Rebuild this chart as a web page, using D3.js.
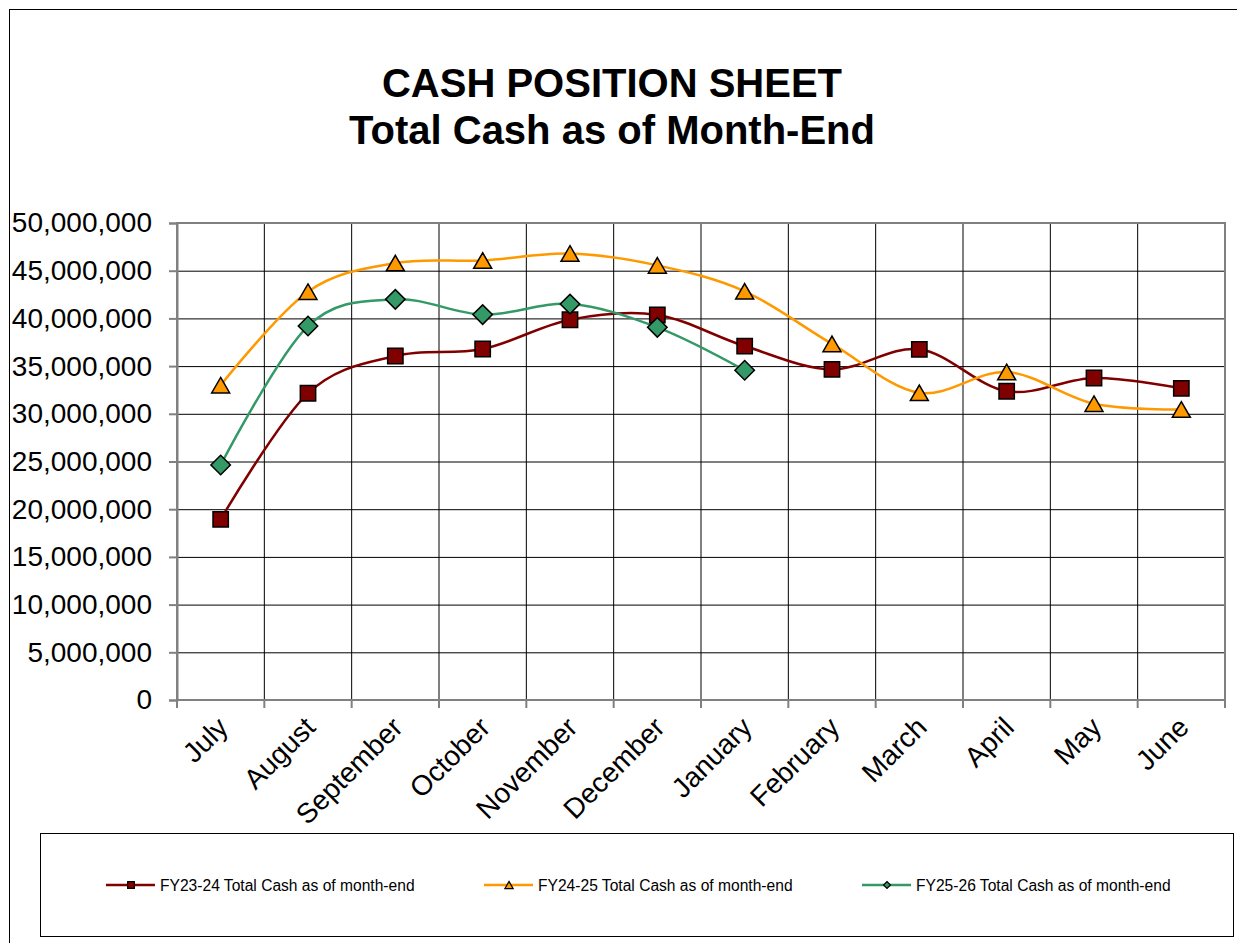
<!DOCTYPE html>
<html>
<head>
<meta charset="utf-8">
<script src="https://cdn.jsdelivr.net/npm/d3@7"></script>
<style>
  body { margin: 0; background: #fff; }
  svg { display: block; font-family: "Liberation Sans", Arial, sans-serif; }
</style>
</head>
<body>
<svg id="chart" width="1237" height="943"></svg>
<script>
const months = ["July", "August", "September", "October", "November", "December",
  "January", "February", "March", "April", "May", "June"];
const fy2324 = [18940000, 32150000, 36060000, 36790000, 39860000, 40360000,
  37100000, 34660000, 36760000, 32360000, 33750000, 32670000];
const fy2425 = [33000000, 42800000, 45800000, 46070000, 46800000, 45560000,
  42840000, 37330000, 32200000, 34380000, 31060000, 30450000];
const fy2526 = [24630000, 39200000, 42000000, 40400000, 41500000, 39060000, 34560000];
const yTicks = d3.range(0, 50000001, 5000000);
const seriesNames = [
  "FY23-24 Total Cash as of month-end",
  "FY24-25 Total Cash as of month-end",
  "FY25-26 Total Cash as of month-end",
];

const colors = ["#800000", "#FF9900", "#339966"];
// square, triangle, diamond (square turned 45deg)
const shapes = [d3.symbolSquare, d3.symbolTriangle, d3.symbolSquare];
const rotations = [0, 0, 45];
const markerSize = [235, 140, 190];
const legendSizes = [45, 30, 24];

// shift for triangle so the data point sits in the middle of its box
function markerShift(si, size) {
  if (shapes[si] !== d3.symbolTriangle) return 0;
  const side = Math.sqrt(size / (Math.sqrt(3) / 4));
  return (side * Math.sqrt(3) / 2) / 6;
}

const svg = d3.select("#chart");
const plot = { left: 177, right: 1225, top: 223, bottom: 700 };

// outer frame
svg.append("rect")
  .attr("x", 9.5).attr("y", 9.5)
  .attr("width", 1240).attr("height", 950)
  .attr("fill", "#fff").attr("stroke", "#000").attr("stroke-width", 1);

// title
const title = svg.append("text")
  .attr("text-anchor", "middle")
  .attr("font-weight", "bold")
  .attr("font-size", 40);
title.append("tspan").attr("x", 612).attr("y", 97).text("CASH POSITION SHEET");
title.append("tspan").attr("x", 612).attr("y", 144).text("Total Cash as of Month-End");

const x = d3.scaleBand().domain(months).range([plot.left, plot.right]).padding(0);
const y = d3.scaleLinear().domain([0, 50000000]).range([plot.bottom, plot.top]);
const cx = (m) => x(m) + x.bandwidth() / 2;

// grid lines
svg.append("g")
  .attr("class", "y-grid")
  .attr("transform", `translate(${plot.left},0)`)
  .call(d3.axisLeft(y).tickValues(yTicks).tickSize(-(plot.right - plot.left)).tickFormat(""))
  .call((g) => g.select(".domain").remove())
  .selectAll("line").attr("stroke", "#000").attr("stroke-width", 1);

const bounds = months.map((m) => x(m)).concat([plot.right]);
svg.append("g")
  .selectAll("line")
  .data(bounds)
  .join("line")
  .attr("x1", (d) => d).attr("x2", (d) => d)
  .attr("y1", plot.top).attr("y2", plot.bottom)
  .attr("stroke", "#000").attr("stroke-width", 1);

// plot border (gray)
svg.append("rect")
  .attr("x", plot.left).attr("y", plot.top)
  .attr("width", plot.right - plot.left).attr("height", plot.bottom - plot.top)
  .attr("fill", "none").attr("stroke", "#808080").attr("stroke-width", 2);

// y axis
const yAxis = svg.append("g")
  .attr("transform", `translate(${plot.left},0)`)
  .call(d3.axisLeft(y).tickValues(yTicks).tickSize(8).tickPadding(17)
    .tickFormat(d3.format(",")));
yAxis.select(".domain").attr("stroke", "#808080").attr("stroke-width", 2);
yAxis.selectAll(".tick line").attr("stroke", "#808080").attr("stroke-width", 2);
yAxis.selectAll("text")
  .attr("font-size", 28)
  .attr("font-family", "'Liberation Sans', Arial, sans-serif")
  .attr("fill", "#000");

// x axis tick marks at category boundaries
svg.append("g")
  .selectAll("line")
  .data(bounds)
  .join("line")
  .attr("x1", (d) => d).attr("x2", (d) => d)
  .attr("y1", plot.bottom).attr("y2", plot.bottom + 8)
  .attr("stroke", "#808080").attr("stroke-width", 2);

// x labels
const xAxis = svg.append("g")
  .attr("transform", `translate(0,${plot.bottom})`)
  .call(d3.axisBottom(x).tickSize(0).tickPadding(0));
xAxis.select(".domain").remove();
xAxis.selectAll("text")
  .attr("font-size", 28)
  .attr("font-family", "'Liberation Sans', Arial, sans-serif")
  .attr("fill", "#000")
  .attr("text-anchor", "end")
  .attr("y", 0).attr("dy", "0.71em")
  .attr("transform", "translate(-5,15) rotate(-45)");

// series
const allSeries = [fy2324, fy2425, fy2526];
const line = d3.line()
  .x((d, i) => cx(months[i]))
  .y((d) => y(d))
  .curve(d3.curveCardinal.tension(0));

allSeries.forEach((vals, si) => {
  svg.append("path")
    .datum(vals)
    .attr("fill", "none")
    .attr("stroke", colors[si])
    .attr("stroke-width", 2.5)
    .attr("d", line);
});

allSeries.forEach((vals, si) => {
  const dy = markerShift(si, markerSize[si]);
  svg.append("g")
    .selectAll("path")
    .data(vals)
    .join("path")
    .attr("transform", (d, i) =>
      `translate(${cx(months[i])},${y(d) + dy}) rotate(${rotations[si]})`)
    .attr("d", d3.symbol().type(shapes[si]).size(markerSize[si]))
    .attr("fill", colors[si])
    .attr("stroke", "#000")
    .attr("stroke-width", 1.5);
});

// legend
svg.append("rect")
  .attr("x", 40.5).attr("y", 833.5)
  .attr("width", 1193).attr("height", 103)
  .attr("fill", "#fff").attr("stroke", "#000").attr("stroke-width", 1);

const legend = svg.append("g")
  .selectAll("g")
  .data(seriesNames)
  .join("g")
  .attr("transform", (d, i) => `translate(${106 + i * 378},885)`);
legend.append("line")
  .attr("x1", 0).attr("x2", 49)
  .attr("stroke", (d, i) => colors[i]).attr("stroke-width", 2.5);
legend.append("path")
  .attr("transform", (d, i) => `translate(25,${markerShift(i, legendSizes[i])}) rotate(${rotations[i]})`)
  .attr("d", (d, i) => d3.symbol().type(shapes[i]).size(legendSizes[i])())
  .attr("fill", (d, i) => colors[i])
  .attr("stroke", "#000").attr("stroke-width", 1.2);
legend.append("text")
  .attr("x", 54).attr("y", 0).attr("dy", "0.36em")
  .attr("font-size", 15.6)
  .text((d) => d);
</script>
</body>
</html>
